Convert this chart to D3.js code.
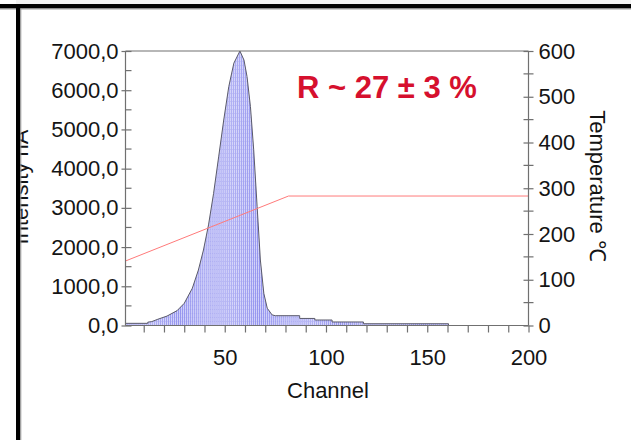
<!DOCTYPE html>
<html>
<head>
<meta charset="utf-8">
<script src="https://cdn.jsdelivr.net/npm/d3@7"></script>
<style>
  html, body { margin: 0; padding: 0; background: #fff; }
  svg { display: block; }
  text { font-family: "Liberation Sans", Arial, sans-serif; fill: #141414; }
</style>
</head>
<body>
<svg id="chart" width="631" height="440"></svg>
<script>
// Spectrum intensity (nA) per channel; repeated channels mark steps
const channels = [1, 12, 12, 14, 17, 21.5, 26.5, 30, 34, 37, 39.5, 42, 44.5, 47, 49.5, 52, 54.5, 57.5,
  59.5, 61, 62.7, 64.3, 66, 67.6, 69.3, 71, 73.4, 75, 87, 87, 94.5, 94.5, 103, 103, 118.5, 118.5, 160.5, 160.5];
const intensity = [55, 55, 85, 100, 160, 240, 380, 565, 950, 1415, 1925, 2565, 3370, 4300, 5240, 6090, 6690, 7000,
  6770, 6350, 5580, 4480, 3030, 1670, 820, 440, 270, 250, 250, 180, 180, 140, 140, 90, 90, 45, 45, 0];

// Temperature ramp (°C) against channel
const tempChannels = [1, 81.5, 200];
const temperature = [141, 283, 283];

// Axis ticks
const xTicks = [50, 100, 150, 200];
const xMinorTicks = d3.range(10, 201, 10);
const yLeftTicks = [0, 1000, 2000, 3000, 4000, 5000, 6000, 7000];
const yLeftMinor = d3.range(500, 7000, 1000);
const yRightTicks = [0, 100, 200, 300, 400, 500, 600];
const yRightMinor = d3.range(50, 600, 100);

const annotation = "R ~ 27 ± 3 %";

const svg = d3.select("#chart");
const L = 125.5, R = 528.5, T = 51, B = 325.5;

const x = d3.scaleLinear().domain([1, 200]).range([L, R]);
const yL = d3.scaleLinear().domain([0, 7000]).range([B, T]);
const yR = d3.scaleLinear().domain([0, 600]).range([B, T]);

// page frame
svg.append("rect").attr("x", 16).attr("y", 0).attr("width", 615).attr("height", 5).attr("fill", "#f2f2f2");

// histogram fill pattern: one stripe per channel
const cw = x(2) - x(1);
const defs = svg.append("defs");
const pat = defs.append("pattern")
  .attr("id", "chan").attr("patternUnits", "userSpaceOnUse")
  .attr("x", x(1)).attr("y", 0).attr("width", cw).attr("height", 4);
pat.append("rect").attr("width", cw).attr("height", 4).attr("fill", "#d6d6fa");
pat.append("rect").attr("width", 0.8).attr("height", 4).attr("fill", "#9494ef");
pat.append("rect").attr("x", 1.3).attr("y", 1).attr("width", 0.6).attr("height", 1).attr("fill", "#bcbcf4");

const pts = channels.map((c, i) => [c, intensity[i]]);

svg.append("path")
  .datum(pts)
  .attr("fill", "url(#chan)")
  .attr("d", d3.area().x(d => x(d[0])).y0(yL(0)).y1(d => yL(d[1])));

svg.append("path")
  .datum(pts)
  .attr("fill", "none")
  .attr("stroke", "#5a5a6a")
  .attr("stroke-width", 1)
  .attr("d", d3.line().x(d => x(d[0])).y(d => yL(d[1])));

// temperature line
svg.append("path")
  .datum(tempChannels.map((c, i) => [c, temperature[i]]))
  .attr("fill", "none")
  .attr("stroke", "#ff7a7a")
  .attr("stroke-width", 1)
  .attr("d", d3.line().x(d => x(d[0])).y(d => yR(d[1])));

const axisColor = "#707070";

// top border
svg.append("line").attr("x1", L).attr("x2", R).attr("y1", T).attr("y2", T)
  .attr("stroke", axisColor).attr("stroke-width", 1.2);

// bottom axis
const gx = svg.append("g").attr("transform", `translate(0,${B})`);
gx.call(d3.axisBottom(x).tickValues(xMinorTicks).tickSize(7).tickFormat(d => xTicks.includes(d) ? d : ""));
gx.select(".domain").attr("stroke", axisColor).attr("stroke-width", 1.2).attr("d", `M${L},0H${R}`);
gx.selectAll(".tick line").attr("stroke", axisColor).attr("stroke-width", 1.2);
gx.selectAll(".tick text").attr("font-size", 22).attr("dy", "1.35em").style("fill", "#141414");

// left axis
const gl = svg.append("g").attr("transform", `translate(${L},0)`);
gl.call(d3.axisLeft(yL).tickValues(yLeftTicks).tickSize(4).tickFormat(d => d3.format(".1f")(d).replace(".", ",")));
gl.select(".domain").attr("stroke", axisColor).attr("stroke-width", 1.2).attr("d", `M0,${T}V${B}`);
gl.selectAll(".tick line").attr("stroke", axisColor).attr("stroke-width", 1.2).attr("x1", 6);
gl.selectAll(".tick text").attr("font-size", 22).attr("x", -7).style("fill", "#141414");
gl.selectAll(".minor").data(yLeftMinor).enter().append("line")
  .attr("x1", 0).attr("x2", 6).attr("y1", d => yL(d)).attr("y2", d => yL(d))
  .attr("stroke", axisColor).attr("stroke-width", 1.2);

// right axis
const gr = svg.append("g").attr("transform", `translate(${R},0)`);
gr.call(d3.axisRight(yR).tickValues(yRightTicks).tickSize(5));
gr.select(".domain").attr("stroke", axisColor).attr("stroke-width", 1.2).attr("d", `M0,${T}V${B}`);
gr.selectAll(".tick line").attr("stroke", axisColor).attr("stroke-width", 1.2).attr("x1", -5);
gr.selectAll(".tick text").attr("font-size", 22).attr("x", 10).style("fill", "#141414");
gr.selectAll(".minor").data(yRightMinor).enter().append("line")
  .attr("x1", -5).attr("x2", 5).attr("y1", d => yR(d)).attr("y2", d => yR(d))
  .attr("stroke", axisColor).attr("stroke-width", 1.2);

// axis titles
svg.append("text").attr("x", (L + R) / 2 + 1).attr("y", 398)
  .attr("text-anchor", "middle").attr("font-size", 22).text("Channel");

svg.append("text").attr("transform", `translate(590,186) rotate(90)`)
  .attr("text-anchor", "middle").attr("font-size", 22).text("Temperature ℃");

// left title sits partly under the frame bar
defs.append("clipPath").attr("id", "leftclip")
  .append("rect").attr("x", 20).attr("y", 0).attr("width", 100).attr("height", 440);
svg.append("g").attr("clip-path", "url(#leftclip)")
  .append("text")
  .attr("transform", `translate(28,187) rotate(-90)`)
  .attr("text-anchor", "middle").attr("font-size", 22).text("Intensity nA");

// annotation
svg.append("text").attr("x", 297).attr("y", 98)
  .attr("font-size", 31).attr("font-weight", "bold").style("fill", "#d6102e").text(annotation);

// frame bars
svg.append("rect").attr("x", 0).attr("y", 4).attr("width", 631).attr("height", 4.5).attr("fill", "#000");
svg.append("rect").attr("x", 0).attr("y", 8.5).attr("width", 631).attr("height", 1).attr("fill", "#9a9a9a");
svg.append("rect").attr("x", 16).attr("y", 4).attr("width", 4.3).attr("height", 436).attr("fill", "#000");
svg.append("rect").attr("x", 20.3).attr("y", 8.5).attr("width", 1).attr("height", 432).attr("fill", "#9a9a9a");
</script>
</body>
</html>
